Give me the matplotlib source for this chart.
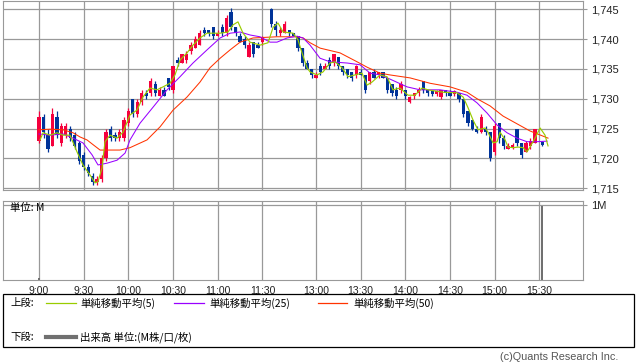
import numpy as np
import matplotlib
matplotlib.use("Agg")
import matplotlib.pyplot as plt
from matplotlib.lines import Line2D
from matplotlib.patches import Rectangle

plt.rcParams['font.family'] = ['Liberation Sans', 'Noto Sans CJK JP', 'DejaVu Sans']
jp = ['Noto Sans CJK JP', 'DejaVu Sans']

# minute index: 9:00 = 0 ... 11:30 = 150, 12:30 = 156 ... 15:30 = 336
tick_t = [0, 30, 60, 90, 120, 150, 186, 216, 246, 276, 306, 336]
tick_lbl = ["9:00", "9:30", "10:00", "10:30", "11:00", "11:30",
            "13:00", "13:30", "14:00", "14:30", "15:00", "15:30"]
price_ticks = [1715, 1720, 1725, 1730, 1735, 1740, 1745]

# candles (3 minute steps) + closing auction
candle_t = np.r_[np.arange(0, 151, 3), np.arange(156, 334, 3), 338]
ohlc = [
    # morning
    (1723, 1728, 1722.5, 1727), (1727, 1727.5, 1723.5, 1724.5), (1724, 1725, 1721, 1721.5),
    (1722, 1728.5, 1722, 1727.5), (1727, 1728, 1723.5, 1724), (1722.5, 1726, 1722, 1725.5),
    (1724, 1726, 1723.5, 1725.5), (1725, 1725.5, 1723, 1723.5), (1724, 1724.5, 1721.5, 1722),
    (1722.5, 1723, 1719, 1719.5), (1720.5, 1721, 1718, 1718.5), (1718.5, 1719, 1717, 1717.5),
    (1717, 1717.5, 1715.5, 1716), (1716, 1717, 1715.5, 1716.5), (1716.5, 1720.5, 1716, 1720),
    (1720, 1725, 1719.5, 1724.5), (1725, 1725.5, 1723, 1723.5), (1724, 1724.5, 1723, 1723.5),
    (1723.5, 1725, 1723, 1724.5), (1723.5, 1727, 1723, 1726.5), (1726, 1728.5, 1725.5, 1728),
    (1730, 1730, 1727, 1727.5), (1727.5, 1730, 1727, 1729.5), (1729.5, 1731.5, 1729, 1731),
    (1731, 1731.5, 1730, 1730.5), (1731, 1733.5, 1730.5, 1733), (1732.5, 1733, 1730.5, 1731),
    (1730.5, 1732, 1730.5, 1731.5), (1731.5, 1732, 1730.5, 1730.5), (1733.5, 1733.5, 1731.5, 1732),
    (1731.5, 1735.5, 1731, 1735.5), (1736.5, 1737, 1735.5, 1736), (1736, 1737.5, 1736, 1737.5),
    (1736.5, 1738, 1736, 1737.5), (1738, 1739.5, 1737.5, 1739), (1738.5, 1740.5, 1738.5, 1740),
    (1739, 1741.5, 1739, 1741), (1741.5, 1742, 1740.5, 1741), (1741.5, 1741.5, 1740.5, 1741),
    (1742, 1742, 1740, 1740.5), (1740.5, 1741.5, 1740.5, 1741), (1742, 1742.5, 1740.5, 1741),
    (1741, 1744, 1740.5, 1743.5), (1744.5, 1745.2, 1741.5, 1742), (1742, 1742, 1740.5, 1741),
    (1740.5, 1741, 1739.5, 1739.5), (1740, 1740.5, 1738.5, 1739), (1737, 1739.5, 1737, 1739),
    (1739.5, 1739.5, 1737, 1737.5), (1739, 1739.5, 1738.5, 1738.5), (1739.5, 1740.5, 1739, 1740.3),
    # afternoon
    (1745, 1745.3, 1742, 1742.5), (1742.5, 1743, 1740.5, 1741.5), (1741, 1742, 1740.5, 1741.5),
    (1741, 1743, 1741, 1742.5), (1741.5, 1741.5, 1740.5, 1741), (1741, 1741, 1740.5, 1740.5),
    (1740.5, 1740.5, 1738, 1738.5), (1738.5, 1738.5, 1735.5, 1736), (1736, 1736.5, 1735, 1735),
    (1735, 1735, 1733.5, 1734), (1733.5, 1734.5, 1733.5, 1734), (1735.5, 1736, 1734, 1734.5),
    (1735, 1736, 1735, 1735.5), (1736.5, 1737, 1735, 1735.5), (1736, 1737.5, 1735.5, 1737.5),
    (1737, 1737, 1735, 1735.5), (1735.5, 1735.5, 1734, 1734.5), (1735, 1735, 1733.5, 1734),
    (1734.5, 1734.5, 1733, 1733.5), (1734, 1735.7, 1733.5, 1735.5), (1734.5, 1735, 1734, 1734),
    (1734, 1734, 1731, 1731.5), (1733, 1734.5, 1732.5, 1734.5), (1734.5, 1735, 1733.5, 1733.5),
    (1734, 1734.5, 1733.5, 1734.5), (1734.5, 1734.5, 1733.5, 1733.5), (1733.5, 1733.5, 1731, 1731.5),
    (1732.5, 1732.5, 1730.5, 1731), (1731.5, 1732, 1730, 1730.5), (1731.5, 1733, 1731, 1732.5),
    (1731.5, 1731.5, 1730, 1730.5), (1729.5, 1730.5, 1729.3, 1730.3), (1730.5, 1731, 1730, 1731),
    (1731, 1732, 1730.5, 1731.5), (1733, 1733, 1731, 1731.5), (1731.5, 1731.5, 1730.5, 1731),
    (1731.3, 1731.5, 1730.5, 1730.8), (1730.8, 1731.5, 1730.5, 1731.3), (1730.3, 1731.5, 1730, 1731.5),
    (1731.5, 1731.5, 1730.5, 1731), (1731, 1731.5, 1730.5, 1730.5), (1730.8, 1731.5, 1730.5, 1731.3),
    (1731, 1731, 1729.5, 1730), (1730, 1730, 1727, 1727.5), (1728, 1728, 1725.5, 1726),
    (1726.5, 1726.5, 1724.8, 1725), (1725, 1725.5, 1724.3, 1724.5), (1724.5, 1727.5, 1724.3, 1727),
    (1725, 1725.5, 1724, 1724.5), (1724.5, 1724.5, 1719.5, 1720), (1721, 1726, 1720.5, 1725.5),
    (1726, 1726, 1722.5, 1723.5), (1723.5, 1724, 1721.5, 1722), (1721.5, 1722.5, 1721.5, 1722),
    (1721.8, 1722.5, 1721.5, 1722.3), (1725, 1725, 1722, 1722.5), (1722.5, 1722.5, 1720, 1720.5),
    (1721, 1723, 1721, 1722.5), (1722, 1723.5, 1721.5, 1723), (1722.5, 1725, 1722.5, 1725),
    # closing auction
    (1722.8, 1723, 1722, 1722.2),
]
opens = np.array([c[0] for c in ohlc])
highs = np.array([c[1] for c in ohlc])
lows = np.array([c[2] for c in ohlc])
closes = np.array([c[3] for c in ohlc])

volume = np.zeros(len(candle_t))
volume[0] = 0.03
volume[-1] = 0.98

# moving averages
ma5_t = [0.7, 2.7, 7.4, 12.1, 16.1, 20.8, 25.5, 29.5, 34.3, 37.6, 39.6, 42.3, 44.3, 47.7, 52.4,
         56.4, 61.1, 65.8, 69.8, 74.5, 79.2, 83.3, 87.9, 91.3, 94.7, 99.4, 103.4, 108.1, 112.8,
         121.6, 126.9, 130.3, 133.6, 137.0, 141.7, 148.4, 153.8, 157.2, 160.5, 163.9, 170.6,
         173.9, 176.6, 180.0, 182.0, 186.7, 190.7, 195.4, 198.8, 203.5, 207.5, 212.2, 216.9,
         220.3, 223.6, 229.0, 233.7, 237.7, 242.4, 247.8, 252.5, 257.2, 261.3, 271.3, 280.7,
         284.8, 288.1, 291.5, 294.8, 299.5, 301.5, 304.9, 307.6, 309.6, 313.0, 315.0, 318.3,
         321.7, 325.1, 327.7, 329.7, 333.1, 336.5, 339.8, 341.8]
ma5_v = [1723.1, 1724.3, 1723.9, 1724.3, 1723.9, 1723.9, 1721.1, 1718.9, 1717.2, 1715.9, 1716.1,
         1718.4, 1722.8, 1723.9, 1723.4, 1724.4, 1727.3, 1728.1, 1730.3, 1731.8, 1731.5, 1732.0,
         1732.6, 1734.0, 1736.5, 1737.7, 1739.0, 1740.2, 1741.0, 1741.0, 1741.2, 1742.4, 1742.9,
         1741.0, 1739.5, 1739.0, 1739.4, 1742.0, 1742.7, 1741.2, 1741.0, 1739.9, 1737.7, 1735.2,
         1734.5, 1734.0, 1734.5, 1736.0, 1736.2, 1735.2, 1733.7, 1734.0, 1734.3, 1732.3, 1732.8,
         1734.0, 1733.7, 1731.5, 1731.8, 1730.6, 1730.6, 1731.8, 1731.5, 1731.1, 1731.0, 1730.3,
         1728.5, 1726.4, 1724.8, 1725.1, 1724.4, 1722.6, 1722.8, 1724.4, 1723.1, 1721.9, 1721.8,
         1721.9, 1721.8, 1721.1, 1721.9, 1723.4, 1725.1, 1723.9, 1722.1]

ma25_t = [0, 7.4, 16.1, 22.8, 29.5, 35.6, 39.6, 45.7, 52.4, 57.8, 61.1, 67.8, 76.6, 86.0, 94.7,
          103.4, 112.8, 121.6, 128.3, 135.0, 141.7, 148.4, 155.1, 159.8, 166.6, 173.3, 177.3,
          182.0, 188.7, 195.4, 206.8, 215.6, 222.3, 229.0, 235.7, 247.1, 255.9, 269.3, 280.7,
          287.4, 294.2, 300.9, 307.6, 314.3, 321.0, 327.7, 334.4, 341.2]
ma25_v = [1724.1, 1723.9, 1724.1, 1723.4, 1722.6, 1720.6, 1718.9, 1719.2, 1719.7, 1720.9, 1723.1,
          1725.9, 1728.6, 1731.5, 1733.7, 1736.0, 1738.2, 1740.2, 1741.0, 1741.2, 1740.7, 1740.4,
          1739.5, 1739.5, 1740.2, 1740.5, 1740.2, 1739.0, 1736.8, 1736.2, 1736.0, 1735.7, 1734.3,
          1734.0, 1733.3, 1732.0, 1731.5, 1731.5, 1731.1, 1730.6, 1729.3, 1727.6, 1725.6, 1724.3,
          1723.4, 1722.8, 1722.8, 1722.9]

ma50_t = [0, 7.4, 16.1, 22.8, 27.5, 32.2, 36.3, 41.0, 54.4, 61.1, 72.5, 81.3, 90.0, 99.4, 108.1,
          114.8, 121.6, 128.3, 135.0, 143.7, 159.8, 173.3, 177.3, 182.0, 188.7, 202.1, 213.6,
          220.3, 229.0, 235.7, 249.2, 262.6, 276.0, 287.4, 294.2, 302.9, 311.6, 321.0, 329.7,
          337.8, 341.8]
ma50_v = [1724.8, 1724.9, 1724.8, 1724.3, 1723.6, 1723.1, 1722.3, 1721.4, 1721.4, 1721.8, 1723.1,
          1725.3, 1728.1, 1730.3, 1732.8, 1735.2, 1736.8, 1738.2, 1739.5, 1740.2, 1740.4, 1740.4,
          1740.2, 1739.4, 1738.5, 1737.7, 1736.2, 1735.3, 1734.3, 1734.0, 1733.5, 1732.6, 1732.0,
          1731.1, 1730.0, 1728.8, 1727.1, 1725.8, 1724.6, 1723.8, 1723.4]

UP, DOWN = '#f5003d', '#003399'
GRID = '#999999'

fig = plt.figure(figsize=(6.38, 3.62), dpi=100)
W, H = 638, 362
ax = fig.add_axes([3 / W, 1 - 190 / H, 580 / W, 189 / H])
axv = fig.add_axes([3 / W, 1 - 280 / H, 580 / W, 79 / H])

# --- price panel ---
cols = np.where(closes >= opens, UP, DOWN)
body = np.maximum(np.abs(closes - opens), 0.2)
ax.vlines(candle_t, lows, highs, colors=cols, lw=0.9, zorder=2)
ax.bar(candle_t, body, bottom=np.minimum(opens, closes), width=2.2, color=cols, zorder=2)
ax.plot(ma50_t, ma50_v, color='#ff3300', lw=0.75, zorder=3)
ax.plot(ma25_t, ma25_v, color='#9900ff', lw=0.75, zorder=3)
ax.plot(ma5_t, ma5_v, color='#99cc00', lw=0.85, zorder=4)

ax.set_xlim(-24.2, 365.3)
ax.set_ylim(1714.7, 1746.4)
ax.set_xticks(tick_t)
ax.set_xticklabels([])
ax.set_yticks(price_ticks)
ax.set_yticklabels([f"{v:,}" for v in price_ticks])
ax.yaxis.tick_right()
ax.tick_params(axis='x', length=0)
ax.tick_params(axis='y', length=3, color=GRID, pad=3, labelsize=8, labelcolor='#222222')
ax.grid(True, color=GRID, lw=0.9, zorder=0)
ax.set_axisbelow(True)
for s in ax.spines.values():
    s.set_color(GRID)

# --- volume panel ---
axv.bar(candle_t, volume, width=1.4, color='#707070', zorder=2)
axv.set_xlim(-24.2, 365.3)
axv.set_ylim(0, 1.053)
axv.set_xticks(tick_t)
axv.set_xticklabels(tick_lbl)
axv.set_yticks([1])
axv.set_yticklabels(["1M"])
axv.yaxis.tick_right()
axv.tick_params(axis='x', length=0, pad=4, labelsize=7.5, labelcolor='#222222')
axv.tick_params(axis='y', length=3, color=GRID, pad=3, labelsize=8, labelcolor='#222222')
axv.grid(True, color=GRID, lw=0.9, zorder=0)
axv.set_axisbelow(True)
for s in axv.spines.values():
    s.set_color(GRID)
axv.text(0.012, 0.97, "単位: M", transform=axv.transAxes, va='top', ha='left',
         fontsize=7.5, family=jp)

# --- legend box ---
fig.patches.append(Rectangle((3 / W, 1 - 347 / H), 631 / W, 53 / H, transform=fig.transFigure,
                             fill=False, edgecolor='black', lw=0.9))

def fy(y):
    return 1 - y / H

r1, r2 = 303, 337
fig.text(10 / W, fy(r1), "上段:", fontsize=7.5, family=jp, va='center')
fig.text(10 / W, fy(r2), "下段:", fontsize=7.5, family=jp, va='center')
items = [(46, 76, 80, '#99cc00', "単純移動平均(5)"),
         (174, 204, 209, '#9900ff', "単純移動平均(25)"),
         (318, 347, 353, '#ff3300', "単純移動平均(50)")]
for x0, x1, xt, c, lbl in items:
    fig.lines.append(Line2D([x0 / W, x1 / W], [fy(r1), fy(r1)], transform=fig.transFigure,
                            color=c, lw=0.9))
    fig.text(xt / W, fy(r1), lbl, fontsize=7.5, family=jp, va='center')
fig.lines.append(Line2D([46 / W, 76 / W], [fy(r2), fy(r2)], transform=fig.transFigure,
                        color='#707070', lw=3))
fig.text(80 / W, fy(r2), "出来高 単位:(M株/口/枚)", fontsize=7.5, family=jp, va='center')

fig.text(618 / W, fy(357), "(c)Quants Research Inc.", fontsize=7.8, color='#555555',
         ha='right', va='center')

fig.savefig("out.png", dpi=100)
